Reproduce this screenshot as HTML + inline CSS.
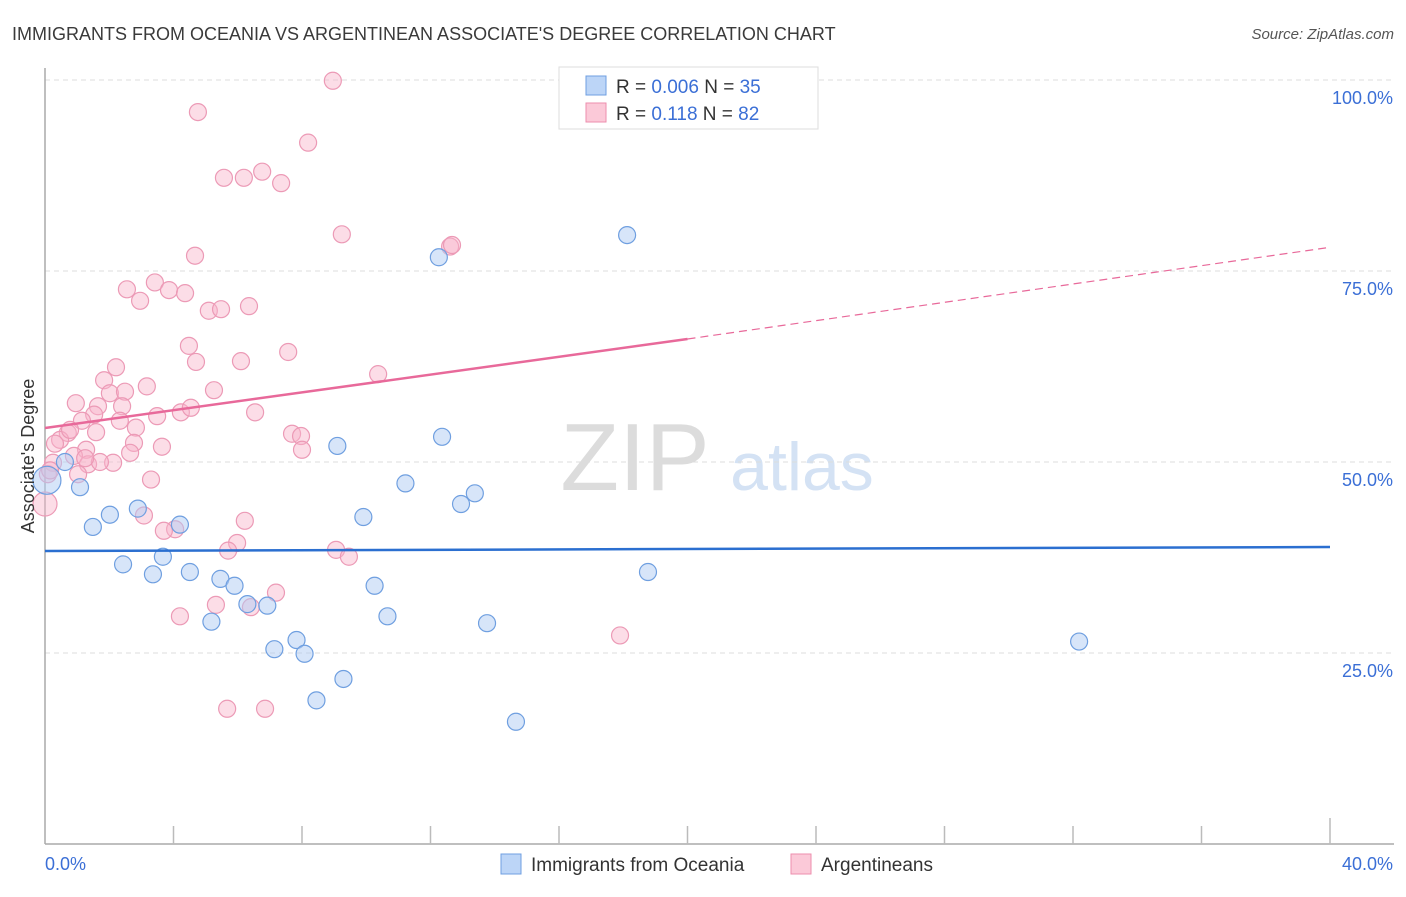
<!DOCTYPE html>
<html><head><meta charset="utf-8"><style>
body{margin:0;background:#fff;font-family:"Liberation Sans",sans-serif}
svg text{font-family:"Liberation Sans",sans-serif}
</style></head><body>
<svg id="chart" width="1406" height="892" xmlns="http://www.w3.org/2000/svg">
<text x="12" y="40" font-size="18" fill="#3a3a3a">IMMIGRANTS FROM OCEANIA VS ARGENTINEAN ASSOCIATE'S DEGREE CORRELATION CHART</text>
<text x="1394" y="39" font-size="15" fill="#555" font-style="italic" text-anchor="end">Source: ZipAtlas.com</text>
<g>
<text x="635" y="490" font-size="96" fill="#dcdcdc" font-family="Liberation Serif" text-anchor="middle">ZIP</text>
<text x="802" y="490" font-size="68" fill="#d4e2f4" text-anchor="middle">atlas</text>
</g>
<g id="grid"></g>
<g id="axes"></g>
<g id="marks"></g>
<g>
<rect x="559" y="67" width="259" height="62" fill="#fff" stroke="#ddd"/>
<rect x="586" y="76" width="20" height="19" fill="#bcd5f7" stroke="#6f9fe0"/>
<rect x="586" y="103" width="20" height="19" fill="#fbc9d8" stroke="#ec8eae"/>
<text x="616" y="93" font-size="19" fill="#333">R = <tspan fill="#3b6fd6">0.006</tspan>   N = <tspan fill="#3b6fd6">35</tspan></text>
<text x="616" y="120" font-size="19" fill="#333">R =  <tspan fill="#3b6fd6"> 0.118</tspan>   N = <tspan fill="#3b6fd6">82</tspan></text>
</g>
<g>
<rect x="501" y="854" width="20" height="20" fill="#bcd5f7" stroke="#6f9fe0"/>
<text x="531" y="871" font-size="19" fill="#333">Immigrants from Oceania</text>
<rect x="791" y="854" width="20" height="20" fill="#fbc9d8" stroke="#ec8eae"/>
<text x="821" y="871" font-size="19" fill="#333">Argentineans</text>
</g>
<text transform="translate(34,456) rotate(-90)" font-size="18" fill="#333" text-anchor="middle">Associate's Degree</text>
</svg>
<script>
const yTicks=[25,50,75,100];
const yTickLabels=["25.0%","50.0%","75.0%","100.0%"];
const xTickLabels=["0.0%","40.0%"];
const blueX=[0.06,1.09,1.49,2.02,2.43,2.89,3.36,3.67,4.20,4.51,5.18,5.46,5.90,6.30,6.92,7.14,7.83,8.08,8.45,9.10,9.29,9.91,10.26,10.66,11.22,12.26,12.36,12.95,13.38,13.76,14.66,18.12,18.77,32.19,0.62];
const blueY=[47.6,46.7,41.5,43.1,36.6,43.9,35.3,37.6,41.8,35.6,29.1,34.7,33.8,31.4,31.2,25.5,26.7,24.9,18.8,52.1,21.6,42.8,33.8,29.8,47.2,76.8,53.3,44.5,45.9,28.9,16.0,79.7,35.6,26.5,50.0];
const pinkX=[8.96,4.76,8.19,5.57,6.19,6.76,7.35,9.24,12.61,12.67,4.67,2.55,3.42,2.96,3.86,4.36,5.10,5.48,6.35,4.48,4.70,6.10,7.57,10.37,1.84,2.21,3.17,5.26,0.96,1.65,2.02,2.49,2.40,1.53,2.33,3.49,4.23,4.54,6.54,1.15,2.83,1.59,0.71,0.47,0.78,3.64,2.77,7.69,7.97,8.00,0.31,1.28,0.90,0.25,1.34,2.12,1.71,0.09,1.03,3.30,0.0,3.08,4.05,3.70,6.22,5.98,5.70,9.06,9.46,5.32,7.19,6.41,4.20,5.67,6.85,17.90,0.16,1.25,2.65];
const pinkY=[99.9,95.8,91.8,87.2,87.2,88.0,86.5,79.8,78.2,78.4,77.0,72.6,73.5,71.1,72.5,72.1,69.8,70.0,70.4,65.2,63.1,63.2,64.4,61.5,60.7,62.4,59.9,59.4,57.7,57.3,59.0,59.2,57.3,56.2,55.4,56.0,56.5,57.1,56.5,55.4,54.5,53.9,53.8,52.9,54.2,52.0,52.5,53.7,53.4,51.6,52.4,51.6,50.8,49.9,49.7,49.9,50.0,48.4,48.4,47.7,44.5,43.0,41.2,41.0,42.3,39.4,38.4,38.5,37.6,31.3,32.9,31.0,29.8,17.7,17.7,27.3,48.9,50.5,51.2];
const blueTrend=[[0,38.35],[40,38.87]];
const pinkTrendSolid=[[0,54.45],[20,66.1]];
const pinkTrendDash=[[20,66.1],[40,78.1]];
const NS="http://www.w3.org/2000/svg";
const X0=45,X1=1330,Y0=844,Y100=80;
const xs=v=>X0+(v/40)*(X1-X0);
const ys=v=>Y0-(v/100)*(Y0-Y100);
function mk(t,a,p){const e=document.createElementNS(NS,t);for(const k in a)e.setAttribute(k,a[k]);p.appendChild(e);return e;}
const grid=document.getElementById('grid'),axes=document.getElementById('axes'),marks=document.getElementById('marks');
yTicks.forEach((t,i)=>{
 const l=mk('line',{x1:X0,x2:1394,y1:ys(t),y2:ys(t),stroke:'#ddd','stroke-dasharray':'5,4'},grid);
 
 
 const tx=mk('text',{x:1393,y:ys(t)+24,'font-size':18,fill:'#3b6fd6','text-anchor':'end'},axes);
 tx.textContent=yTickLabels[i];
 
 
});
mk('line',{x1:X0,x2:X0,y1:68,y2:Y0,stroke:'#aaa','stroke-width':1.5},axes);
mk('line',{x1:X0,x2:1394,y1:Y0,y2:Y0,stroke:'#aaa','stroke-width':1.5},axes);
for(let i=1;i<=10;i++){const x=xs(i*4);mk('line',{x1:x,x2:x,y1:i==10?818:826,y2:Y0,stroke:'#bbb','stroke-width':1.5},axes);}
const xl0=mk('text',{x:45,y:870,'font-size':18,fill:'#3b6fd6'},axes);xl0.textContent=xTickLabels[0];


const xl1=mk('text',{x:1393,y:870,'font-size':18,fill:'#3b6fd6','text-anchor':'end'},axes);xl1.textContent=xTickLabels[1];


pinkX.forEach((v,i)=>{
 const c=mk('circle',{cx:xs(v),cy:ys(pinkY[i]),r:(i==60?12:8.5),fill:'rgba(248,180,202,0.45)',stroke:'#ec9ab6','stroke-width':1.2},marks);
 
 
});
blueX.forEach((v,i)=>{
 const c=mk('circle',{cx:xs(v),cy:ys(blueY[i]),r:(i==0?14:8.5),fill:'rgba(176,204,244,0.5)',stroke:'#6f9fe0','stroke-width':1.2},marks);
 
 
});
function line(pts,attrs,name){const l=mk('line',Object.assign({x1:xs(pts[0][0]),y1:ys(pts[0][1]),x2:xs(pts[1][0]),y2:ys(pts[1][1])},attrs),marks);
 
 }
line(blueTrend,{stroke:'#2b6fd0','stroke-width':2.5},'oceania-trend-line');
line(pinkTrendSolid,{stroke:'#e8699a','stroke-width':2.5},'argentineans-trend-line');
line(pinkTrendDash,{stroke:'#e8699a','stroke-width':1.2,'stroke-dasharray':'8,5'},'argentineans-trend-extension');
</script>
</body></html>
